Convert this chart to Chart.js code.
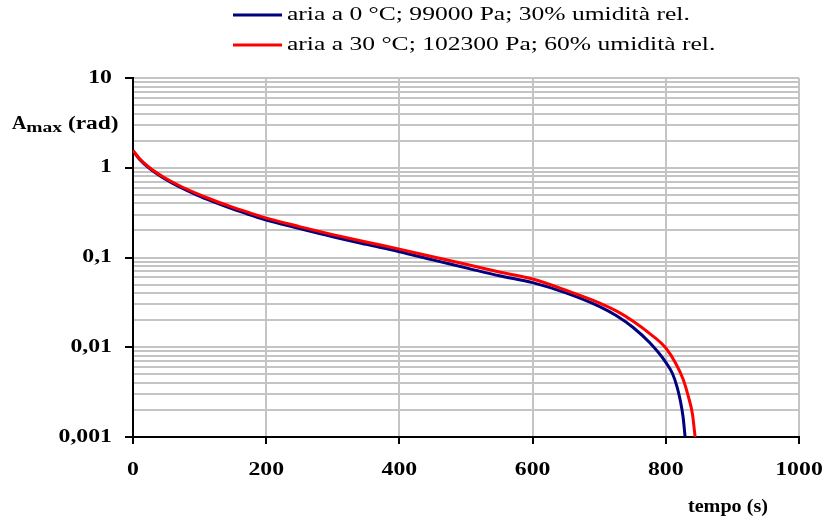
<!doctype html>
<html lang="it">

<head>
  <meta charset="utf-8">
  <title>Ampiezza massima del pendolo</title>
  <script src="https://cdn.jsdelivr.net/npm/chart.js@4.4.1/dist/chart.umd.min.js"></script>
  <style>
    body {
      margin: 0;
      background: #ffffff;
    }
  </style>
</head>

<body>
  <canvas id="grafico" width="825" height="520"></canvas>

  <script>
    // tempo (s) e ampiezza massima (rad), aria a 0 °C
    const tempoBlu = [0, 10, 25, 45, 70, 96, 120, 146, 170, 195, 250, 300, 350, 400, 450, 500, 550, 600, 650, 700, 726, 751, 776, 800, 810, 817, 822, 826, 829];
    const ampBlu = [1.54, 1.24, 0.98, 0.775, 0.61, 0.496, 0.42, 0.356, 0.309, 0.268, 0.21, 0.17, 0.14, 0.116, 0.094, 0.0767, 0.0625, 0.0525, 0.0403, 0.0285, 0.0224, 0.0166, 0.0112, 0.0068, 0.0051, 0.0036, 0.0025, 0.00166, 0.001];

    // aria a 30 °C
    const tempoRosso = [0, 10, 25, 45, 70, 96, 120, 146, 170, 195, 250, 300, 350, 400, 450, 500, 550, 600, 650, 700, 727, 751, 776, 800, 815, 826, 834, 840, 844];
    const ampRosso = [1.56, 1.26, 1.0, 0.795, 0.63, 0.515, 0.437, 0.372, 0.324, 0.282, 0.221, 0.18, 0.149, 0.124, 0.102, 0.084, 0.069, 0.0575, 0.0432, 0.0313, 0.0251, 0.0195, 0.0142, 0.0098, 0.0066, 0.0044, 0.0028, 0.0018, 0.001];

    const nomiSerie = [
      'aria a 0 °C; 99000 Pa; 30% umidità rel.',
      'aria a 30 °C; 102300 Pa; 60% umidità rel.'
    ];
    const coloriSerie = ['#000080', '#ff0000'];

    const xTickValues = [0, 200, 400, 600, 800, 1000];
    const xTickLabels = ['0', '200', '400', '600', '800', '1000'];
    const yTickValues = [0.001, 0.01, 0.1, 1, 10];
    const yTickLabels = ['0,001', '0,01', '0,1', '1', '10'];

    function punti(xs, ys) {
      return xs.map((x, i) => ({ x: x, y: ys[i] }));
    }

    function isDecade(v) {
      const l = Math.log10(v);
      return Math.abs(l - Math.round(l)) < 1e-9;
    }

    // testo allargato in orizzontale
    function testo(ctx, s, x, y, font, align, sx) {
      ctx.save();
      ctx.font = font;
      ctx.fillStyle = '#000';
      ctx.textAlign = align;
      ctx.textBaseline = 'middle';
      ctx.translate(x, y);
      ctx.scale(sx, 1);
      ctx.fillText(s, 0, 0);
      ctx.restore();
    }

    const etichette = {
      id: 'etichette',
      afterDraw(chart) {
        const ctx = chart.ctx;
        const xs = chart.scales.x;
        const ys = chart.scales.y;
        const fTick = 'bold 18px "Liberation Serif"';

        xTickValues.forEach((v, i) => {
          testo(ctx, xTickLabels[i], xs.getPixelForValue(v), 470, fTick, 'center', 1.32);
        });
        yTickValues.forEach((v, i) => {
          testo(ctx, yTickLabels[i], 112, ys.getPixelForValue(v), fTick, 'right', 1.32);
        });

        // titoli degli assi
        testo(ctx, 'tempo (s)', 768, 507, fTick, 'right', 1.12);
        ctx.save();
        ctx.font = 'bold 18px "Liberation Serif"';
        const wA = ctx.measureText('A').width * 1.1;
        ctx.font = 'bold 15px "Liberation Serif"';
        const wMax = ctx.measureText('max').width * 1.3;
        ctx.restore();
        testo(ctx, 'A', 12, 124, 'bold 18px "Liberation Serif"', 'left', 1.1);
        testo(ctx, 'max', 12 + wA, 128, 'bold 15px "Liberation Serif"', 'left', 1.3);
        testo(ctx, ' (rad)', 12 + wA + wMax, 124, 'bold 18px "Liberation Serif"', 'left', 1.3);

        // legenda
        const righe = [15, 45];
        righe.forEach((y, i) => {
          ctx.save();
          ctx.strokeStyle = coloriSerie[i];
          ctx.lineWidth = 3;
          ctx.beginPath();
          ctx.moveTo(233, y);
          ctx.lineTo(282, y);
          ctx.stroke();
          ctx.restore();
          testo(ctx, nomiSerie[i], 287, y, '18px "Liberation Serif"', 'left', 1.42);
        });
      }
    };

    new Chart(document.getElementById('grafico'), {
      type: 'line',
      data: {
        datasets: [{
          label: nomiSerie[0],
          data: punti(tempoBlu, ampBlu),
          borderColor: coloriSerie[0],
          borderWidth: 3,
          pointRadius: 0,
          cubicInterpolationMode: 'monotone',
          order: 1
        }, {
          label: nomiSerie[1],
          data: punti(tempoRosso, ampRosso),
          borderColor: coloriSerie[1],
          borderWidth: 3,
          pointRadius: 0,
          cubicInterpolationMode: 'monotone',
          order: 0
        }]
      },
      options: {
        responsive: false,
        animation: false,
        devicePixelRatio: 1,
        layout: { padding: { top: 78, right: 26, left: 0, bottom: 0 } },
        plugins: {
          legend: { display: false },
          tooltip: { enabled: false }
        },
        scales: {
          x: {
            type: 'linear',
            min: 0,
            max: 1000,
            ticks: { display: false, stepSize: 200 },
            grid: { color: '#c4c4c4', lineWidth: 2, tickColor: '#000', tickLength: 7, tickWidth: 2 },
            border: { color: '#000', width: 2 },
            afterFit(scale) { scale.height = 83; }
          },
          y: {
            type: 'logarithmic',
            min: 0.001,
            max: 10,
            ticks: { display: false, autoSkip: false },
            afterBuildTicks(scale) {
              // griglia: 1..9 per ogni decade
              const t = [];
              for (let d = 0; d < yTickValues.length - 1; d++) {
                for (let m = 1; m < 10; m++) {
                  t.push({ value: +(m * yTickValues[d]).toPrecision(3) });
                }
              }
              t.push({ value: yTickValues[yTickValues.length - 1] });
              scale.ticks = t;
            },
            grid: {
              color: '#c4c4c4',
              lineWidth: 2,
              tickLength: 8,
              tickWidth: 2,
              tickColor: (c) => (c.tick && isDecade(c.tick.value)) ? '#000' : 'rgba(0,0,0,0)'
            },
            border: { color: '#000', width: 2 },
            afterFit(scale) { scale.width = 133; }
          }
        }
      },
      plugins: [etichette]
    });
  </script>
</body>

</html>
